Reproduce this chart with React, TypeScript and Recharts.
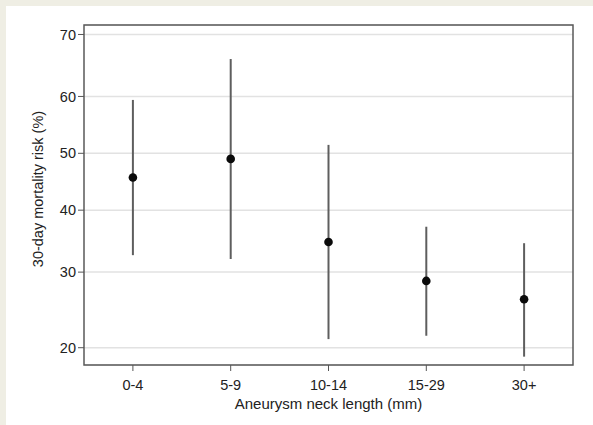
import React from "react";
import {
  ComposedChart,
  Scatter,
  ErrorBar,
  XAxis,
  YAxis,
  CartesianGrid,
  ReferenceArea,
} from "recharts";

const categories = ["0-4", "5-9", "10-14", "15-29", "30+"];
const risk = [45.7, 49.0, 34.7, 28.7, 26.1];
const lower = [32.6, 32.0, 21.0, 21.4, 19.0];
const upper = [59.4, 66.2, 51.5, 37.2, 34.5];
const yTicks = [20, 30, 40, 50, 60, 70];
const yRange = [18.1, 71.4];

// the y axis is on a logit scale, so values are moved into logit space
const logit = (pct: number) => Math.log(pct / 100 / (1 - pct / 100));
const fromLogit = (v: number) => 100 / (1 + Math.exp(-v));

const data = categories.map((cat, i) => ({
  cat,
  est: logit(risk[i]),
  err: [logit(risk[i]) - logit(lower[i]), logit(upper[i]) - logit(risk[i])],
}));

const font = "'Liberation Sans', Arial, Helvetica, sans-serif";
const textColor = "#222";

function YTitle(props: any) {
  const { viewBox } = props;
  const x = viewBox.x + 14;
  const y = viewBox.y + viewBox.height / 2 - 6;
  return (
    <text
      x={x}
      y={y}
      transform={`rotate(-90, ${x}, ${y})`}
      textAnchor="middle"
      dominantBaseline="central"
      fontSize={14.5}
      fill={textColor}
      fontFamily={font}
    >
      30-day mortality risk (%)
    </text>
  );
}

export default function App() {
  const domain = [logit(yRange[0]), logit(yRange[1])];
  return (
    <div
      style={{
        position: "fixed",
        left: 0,
        top: 0,
        width: 593,
        height: 425,
        background: "#efeee4",
      }}
    >
      <div
        style={{
          position: "absolute",
          left: 6,
          top: 6,
          right: 0,
          bottom: 0,
          background: "#ffffff",
        }}
      />
      <div style={{ position: "absolute", left: 0, top: 0 }}>
        <ComposedChart
          width={593}
          height={425}
          data={data}
          margin={{ top: 25, right: 20, bottom: 10, left: 24 }}
          style={{ fontFamily: font }}
        >
          <CartesianGrid
            vertical={false}
            stroke="#e2e2e2"
            strokeWidth={1.5}
          />
          <XAxis
            dataKey="cat"
            scale="band"
            height={50}
            axisLine={false}
            tickLine={{ stroke: "#555" }}
            tickSize={6}
            tickMargin={9}
            tick={{ fill: textColor, fontSize: 14.5 }}
            label={{
              value: "Aneurysm neck length (mm)",
              position: "insideBottom",
              offset: 6,
              fill: textColor,
              fontSize: 15,
            }}
          />
          <YAxis
            type="number"
            width={60}
            domain={domain}
            allowDataOverflow
            ticks={yTicks.map(logit)}
            tickFormatter={(v: number) => String(Math.round(fromLogit(v)))}
            axisLine={false}
            tickLine={{ stroke: "#555" }}
            tickSize={6}
            tickMargin={2}
            tick={{ fill: textColor, fontSize: 14.5 }}
            label={<YTitle />}
          />
          <ReferenceArea
            y1={domain[0]}
            y2={domain[1]}
            fill="none"
            stroke="#5a5a5a"
            strokeWidth={1.5}
            ifOverflow="visible"
          />
          <Scatter
            dataKey="est"
            fill="#0a0a0a"
            isAnimationActive={false}
            shape={(p: any) => <circle cx={p.cx} cy={p.cy} r={4.3} fill="#0a0a0a" />}
          >
            <ErrorBar
              dataKey="err"
              direction="y"
              width={0}
              stroke="#5e5e5e"
              strokeWidth={2}
              isAnimationActive={false}
            />
          </Scatter>
        </ComposedChart>
      </div>
    </div>
  );
}
